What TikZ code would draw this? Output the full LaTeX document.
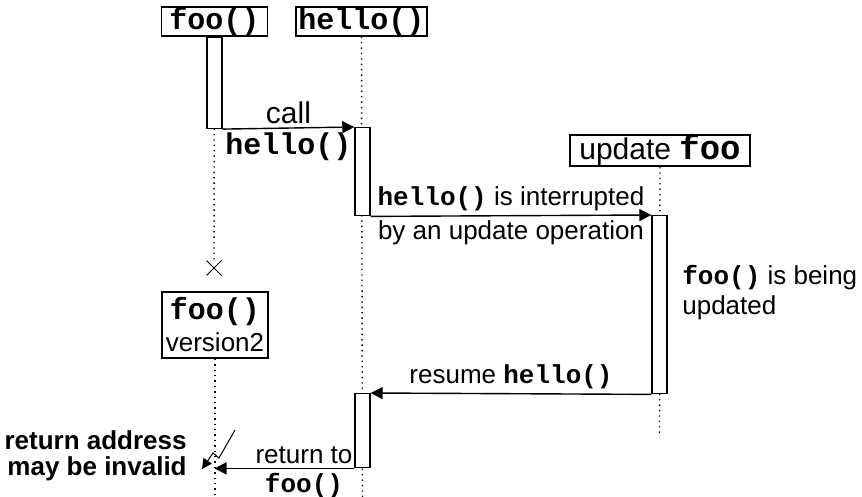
\documentclass[tikz,border=0pt]{standalone}
\usepackage{fontspec}
\setmainfont{Liberation Sans}
\setmonofont{Liberation Mono}
\usetikzlibrary{arrows.meta,shapes.misc}
\newcommand{\code}[1]{\texttt{\bfseries #1}}

\begin{document}
\begin{tikzpicture}[x=0.5pt,y=-0.5pt,line width=0.7pt,
  font=\fontsize{13}{15}\selectfont,
  head/.style={draw,inner sep=0pt,font=\fontsize{15}{16}\selectfont},
  bar/.style={draw,fill=white,minimum width=7.5pt,inner sep=0pt,anchor=north},
  life/.style={dotted},
  msg/.style={-{Triangle[length=6pt,width=6pt]}},
  lbl/.style={inner sep=2pt}]
\useasboundingbox (0,0) rectangle (862,497);
                        % heads of the lifelines
                        \node[head,minimum width=53pt,minimum height=14.5pt] (foo) at (214.5,21.5) {\code{foo()}};
                        \node[head,minimum width=65.5pt,minimum height=14.5pt] (hello) at (361.5,21.5) {\code{hello()}};
                        \node[head,minimum width=90pt,minimum height=13.5pt] (upd) at (660,150.5) {update {\fontsize{17}{17}\selectfont\code{foo}}};
                        \node[head,minimum width=53pt,minimum height=33pt,align=center] (foonew) at (215,325) {\code{foo()}\\{\fontsize{13}{15}\selectfont version2}};
                        \node[draw,cross out,minimum size=7pt,inner sep=0pt,line width=0.5pt] (fooend) at (214,268) {};
                        \coordinate (foobot) at (215,497);
                        \coordinate (hellobot) at (362.5,497);
                        \coordinate (updbot) at (659.5,437);
                        % dotted lifelines
                        \draw[life] (foo.south) -- (fooend.north);
                        \draw[life] (foonew.south) -- (foobot);
                        \draw[life] (hello.south) -- (hellobot);
                        \draw[life] (upd.south) -- (updbot);
                        % activation bars
                        \node[bar,minimum height=45.5pt] (fooact) at (foo.south) {};
                        \node[bar,minimum height=44pt] (helloact) at (362.5,127) {};
                        \node[bar,minimum height=89pt] (updact) at (659.5,215) {};
                        \node[bar,minimum height=37pt] (helloret) at (362.5,393) {};
                        % messages
                        \draw[msg] (fooact.south east) -- node[lbl,above,font=\fontsize{15}{16}\selectfont]{call} node[lbl,below,font=\fontsize{15}{16}\selectfont]{\code{hello()}} (helloact.north west);
                        \draw[msg] (helloact.south east) -- node[lbl,above]{\code{hello()} is interrupted} node[lbl,below]{by an update operation} (updact.north west);
                        \draw[msg] (updact.south west) -- node[lbl,above]{resume \code{hello()}} (helloret.north east);
                        \coordinate (retend) at (fooact.south |- helloret.south west);
                        \draw[msg] (helloret.south west) -- node[lbl,above,pos=0.36]{return to} node[lbl,below,pos=0.36]{\code{foo()}} (retend);
                        % broken return
                        \coordinate (zap1) at (235,430);
                        \coordinate (zap2) at (219,458);
                        \coordinate (zap3) at (213,453);
                        \coordinate (zap4) at (202,469);
                        \draw[-{Triangle[length=5pt,width=5pt]},line width=0.5pt] (zap1) -- (zap2) -- (zap3) -- (zap4);
                        % notes
                        \node[align=left,anchor=north west] (note) at (675,258) {\code{foo()} is being\\updated};
                        \node[align=right,anchor=east,font=\fontsize{13}{13}\selectfont\bfseries] (warn) at (194,456) {return address\\may be invalid};
\end{tikzpicture}
\end{document}
